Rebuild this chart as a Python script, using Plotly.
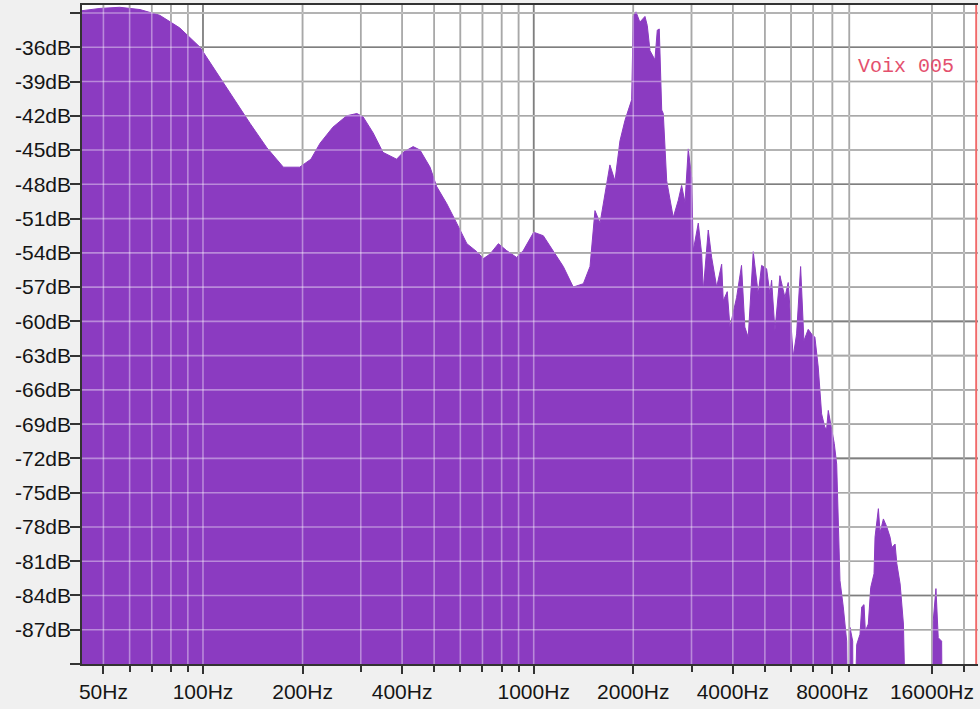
import plotly.graph_objects as go

# spectre "Voix 005" : fréquence (Hz) / niveau (dB)
freqs = [43, 48.8, 56, 64.5, 74, 85, 98, 110, 123, 139, 156, 175, 196, 212, 226,
         247, 272, 292, 305, 327, 350, 385, 403, 432, 453, 486, 509, 546, 585, 628,
         673, 705, 738, 782, 828, 888, 930, 1000, 1069, 1146, 1229, 1317, 1413, 1480,
         1532, 1587, 1662, 1700, 1761, 1823, 1888, 1955, 1978, 2000, 2038, 2094, 2170,
         2205, 2247, 2326, 2364, 2397, 2421, 2438, 2465, 2524, 2642, 2736, 2801, 2867,
         2933, 3003, 3037, 3145, 3220, 3256, 3371, 3452, 3575, 3701, 3742, 3848, 3921,
         4107, 4250, 4349, 4453, 4611, 4774, 4888, 5061, 5178, 5240, 5363, 5552, 5749,
         5882, 6090, 6236, 6413, 6562, 6761, 6922, 7084, 7249, 7422, 7595, 7686, 7775,
         7961, 8106, 8243, 8335, 8434, 8630, 8838, 8937, 9044, 9216, 9255, 9476, 9697,
         9813, 9972, 10063, 10274, 10448, 10691, 10766, 11020, 11151, 11411, 11685,
         11957, 12099, 12380, 12528, 12822, 13120, 13434, 15967, 16146, 16452, 16718,
         17117, 17238, 22050]
levels = [-32.8, -32.6, -32.5, -32.7, -33.2, -34.3, -36.0, -38.2, -40.4, -42.7, -44.8,
          -46.5, -46.5, -45.8, -44.4, -43.0, -42.0, -41.8, -42.1, -43.5, -45.2, -45.8,
          -45.2, -44.7, -45.0, -46.5, -48.2, -49.7, -51.4, -53.2, -53.9, -54.5, -54.1,
          -53.2, -53.8, -54.4, -53.8, -52.2, -52.5, -53.8, -55.2, -57.0, -56.7, -55.2,
          -50.3, -51.4, -48.2, -46.3, -47.7, -44.2, -42.4, -40.9, -40.6, -33.3, -32.9,
          -33.8, -33.3, -34.1, -36.3, -37.1, -34.5, -34.4, -37.7, -41.5, -41.8, -47.7,
          -50.9, -49.4, -48.1, -49.6, -44.9, -47.4, -53.8, -51.4, -54.1, -57.3, -52.0,
          -54.4, -57.0, -55.0, -58.2, -57.4, -60.5, -57.9, -55.1, -60.5, -61.4, -53.9,
          -57.6, -55.1, -55.4, -57.6, -56.4, -60.8, -56.0, -57.9, -56.6, -63.1, -61.1,
          -55.2, -61.7, -60.7, -61.1, -61.4, -64.0, -68.1, -69.3, -69.4, -67.8, -69.5,
          -70.7, -72.5, -76.9, -82.7, -85.0, -88.0, -100, -86.8, -88.0, -100, -88.3,
          -87.4, -85.0, -84.8, -87.1, -86.5, -83.3, -82.1, -78.9, -76.4, -78.5, -77.3,
          -78.0, -78.9, -79.8, -79.5, -81.2, -83.0, -86.5, -100, -100, -86.2, -83.4,
          -87.7, -88.0, -100, -100]
FLOOR = -100

x_labels = [50, 100, 200, 400, 1000, 2000, 4000, 8000, 16000]
x_grid = [50, 60, 70, 80, 90, 100, 200, 300, 400, 500, 600, 700, 800, 900, 1000,
          2000, 3000, 4000, 5000, 6000, 7000, 8000, 9000, 16000, 20000]
x_grid_major = [100, 1000]
y_ticks = list(range(-90, -32, 3))
y_grid_major = [-36, -48, -60, -72, -84]

PURPLE = "#8b3bc1"

fig = go.Figure()
fig.add_trace(go.Scatter(x=freqs, y=[FLOOR] * len(freqs), mode="lines",
                         line=dict(width=0), hoverinfo="skip", showlegend=False))
fig.add_trace(go.Scatter(x=freqs, y=levels, mode="lines", fill="tonexty",
                         fillcolor=PURPLE, line=dict(color=PURPLE, width=1),
                         showlegend=False))

# grille : gris sous la courbe, voile blanc au-dessus (lavande sur le violet)
shapes = []
for f in x_grid:
    dark = f in x_grid_major
    shapes.append(dict(type="line", xref="x", yref="paper", x0=f, x1=f, y0=0, y1=1,
                       layer="below", line=dict(color="#2b2b2b" if dark else "#6f6f6f", width=1.6)))
    shapes.append(dict(type="line", xref="x", yref="paper", x0=f, x1=f, y0=0, y1=1,
                       layer="above", line=dict(color="rgba(255,255,255,0.4)", width=1.6)))
for v in y_ticks[1:]:
    dark = v in y_grid_major
    shapes.append(dict(type="line", xref="paper", yref="y", x0=0, x1=1, y0=v, y1=v,
                       layer="below", line=dict(color="#2b2b2b" if dark else "#6f6f6f", width=1.6)))
    shapes.append(dict(type="line", xref="paper", yref="y", x0=0, x1=1, y0=v, y1=v,
                       layer="above", line=dict(color="rgba(255,255,255,0.4)", width=1.6)))
# bord droit rouge
shapes.append(dict(type="line", xref="paper", yref="paper", x0=0.998, x1=0.998, y0=0, y1=1,
                   layer="above", line=dict(color="#f06a6a", width=2)))

fig.update_layout(
    width=980, height=709,
    margin=dict(l=82, r=2, t=5, b=45),
    paper_bgcolor="#f0f0f0",
    plot_bgcolor="#ffffff",
    font=dict(family="Liberation Sans, Arial, sans-serif", size=21, color="#151515"),
    shapes=shapes,
    showlegend=False,
    xaxis=dict(
        type="log",
        range=[1.6342, 4.3434],
        tickvals=x_labels,
        ticktext=[f"{f}Hz" for f in x_labels],
        tickangle=0, automargin=False,
        ticks="outside", ticklen=8, tickcolor="#333", tickwidth=1.5,
        showgrid=False, zeroline=False,
        showline=True, linecolor="#333", linewidth=2, mirror=True,
        minor=dict(tickmode="array", tickvals=x_grid, ticks="outside",
                   ticklen=6, tickcolor="#333", tickwidth=1.5, showgrid=False),
    ),
    yaxis=dict(
        range=[-90, -32.3],
        tickvals=y_ticks,
        ticktext=["" if v in (-90, -33) else f"{v}dB" for v in y_ticks],
        automargin=False, ticklabelstandoff=-5,
        ticks="outside", ticklen=10, tickcolor="#333", tickwidth=1.5,
        showgrid=False, zeroline=False,
        showline=True, linecolor="#333", linewidth=1.5,
    ),
    annotations=[dict(text="Voix 005", xref="paper", yref="paper", x=0.92, y=0.906,
                      xanchor="center", yanchor="middle", showarrow=False,
                      font=dict(family="Liberation Mono, Courier New, monospace",
                                size=20, color="#e4506e"))],
)

fig.write_html("out.html", config={"displayModeBar": False},
               post_script="document.body.style.margin='0';")
